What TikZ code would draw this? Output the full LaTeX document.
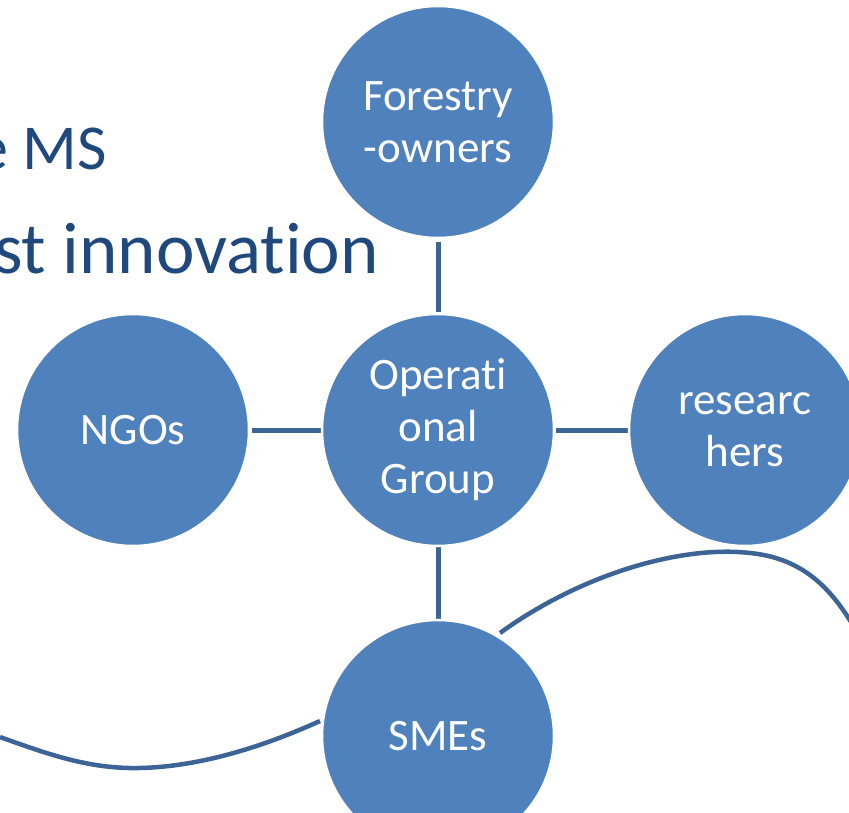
\documentclass[tikz,border=0pt]{standalone}
\usepackage{fontspec}
\setmainfont[Ligatures=NoCommon]{Carlito}
\definecolor{cfill}{HTML}{4F81BD}
\definecolor{cline}{HTML}{3C6496}
\definecolor{ctitle}{HTML}{1F497D}
\begin{document}
\begin{tikzpicture}[x=1pt,y=-1pt,
  bubble/.style={circle,fill=cfill,draw=white,line width=2.5pt,minimum size=232pt,inner sep=0pt,
    text=white,align=center,font=\fontsize{45}{52}\selectfont},
  link/.style={draw=cline,line width=5pt},
  wave/.style={draw=cline,line width=4.5pt},
  title/.style={text=ctitle,anchor=base east,inner sep=0pt}]
\useasboundingbox (0,0) rectangle (849,813);
% title text fragments
\node[title,font=\fontsize{64}{70}\selectfont] (t1) at (107,170) {e MS};
\node[title,font=\fontsize{73}{80}\selectfont] (t2) at (379,273) {st innovation};
% curves
\coordinate (la) at (0,737);
\coordinate (lb) at (139,768);
\coordinate (lc) at (320,721);
\coordinate (ra) at (500,633);
\coordinate (rb) at (750,553);
\coordinate (rc) at (851,622);
\draw[wave] (la) .. controls (50,755) and (90,769) .. (lb) .. controls (200,767) and (265,746) .. (lc);
\draw[wave] (ra) .. controls (580,575) and (680,545) .. (rb) .. controls (800,558) and (828,585) .. (rc);
% positions
\coordinate (pF) at (438,122);
\coordinate (pO) at (438,430);
\coordinate (pN) at (133,430);
\coordinate (pR) at (745,430);
\coordinate (pS) at (438,736);
% connectors
\draw[link,shorten <=120pt,shorten >=118pt] (pF) -- (pO);
\draw[link,shorten <=119pt,shorten >=117pt] (pN) -- (pO);
\draw[link,shorten <=118pt,shorten >=117pt] (pO) -- (pR);
\draw[link,shorten <=117pt,shorten >=117pt] (pO) -- (pS);
% circles
\node[bubble] (F) at (pF) {Forestry\\-owners};
\node[bubble] (O) at (pO) {Operati\\onal\\Group};
\node[bubble] (N) at (pN) {NGOs};
\node[bubble] (R) at (pR) {researc\\hers};
\node[bubble] (S) at (pS) {SMEs};
\end{tikzpicture}
\end{document}
